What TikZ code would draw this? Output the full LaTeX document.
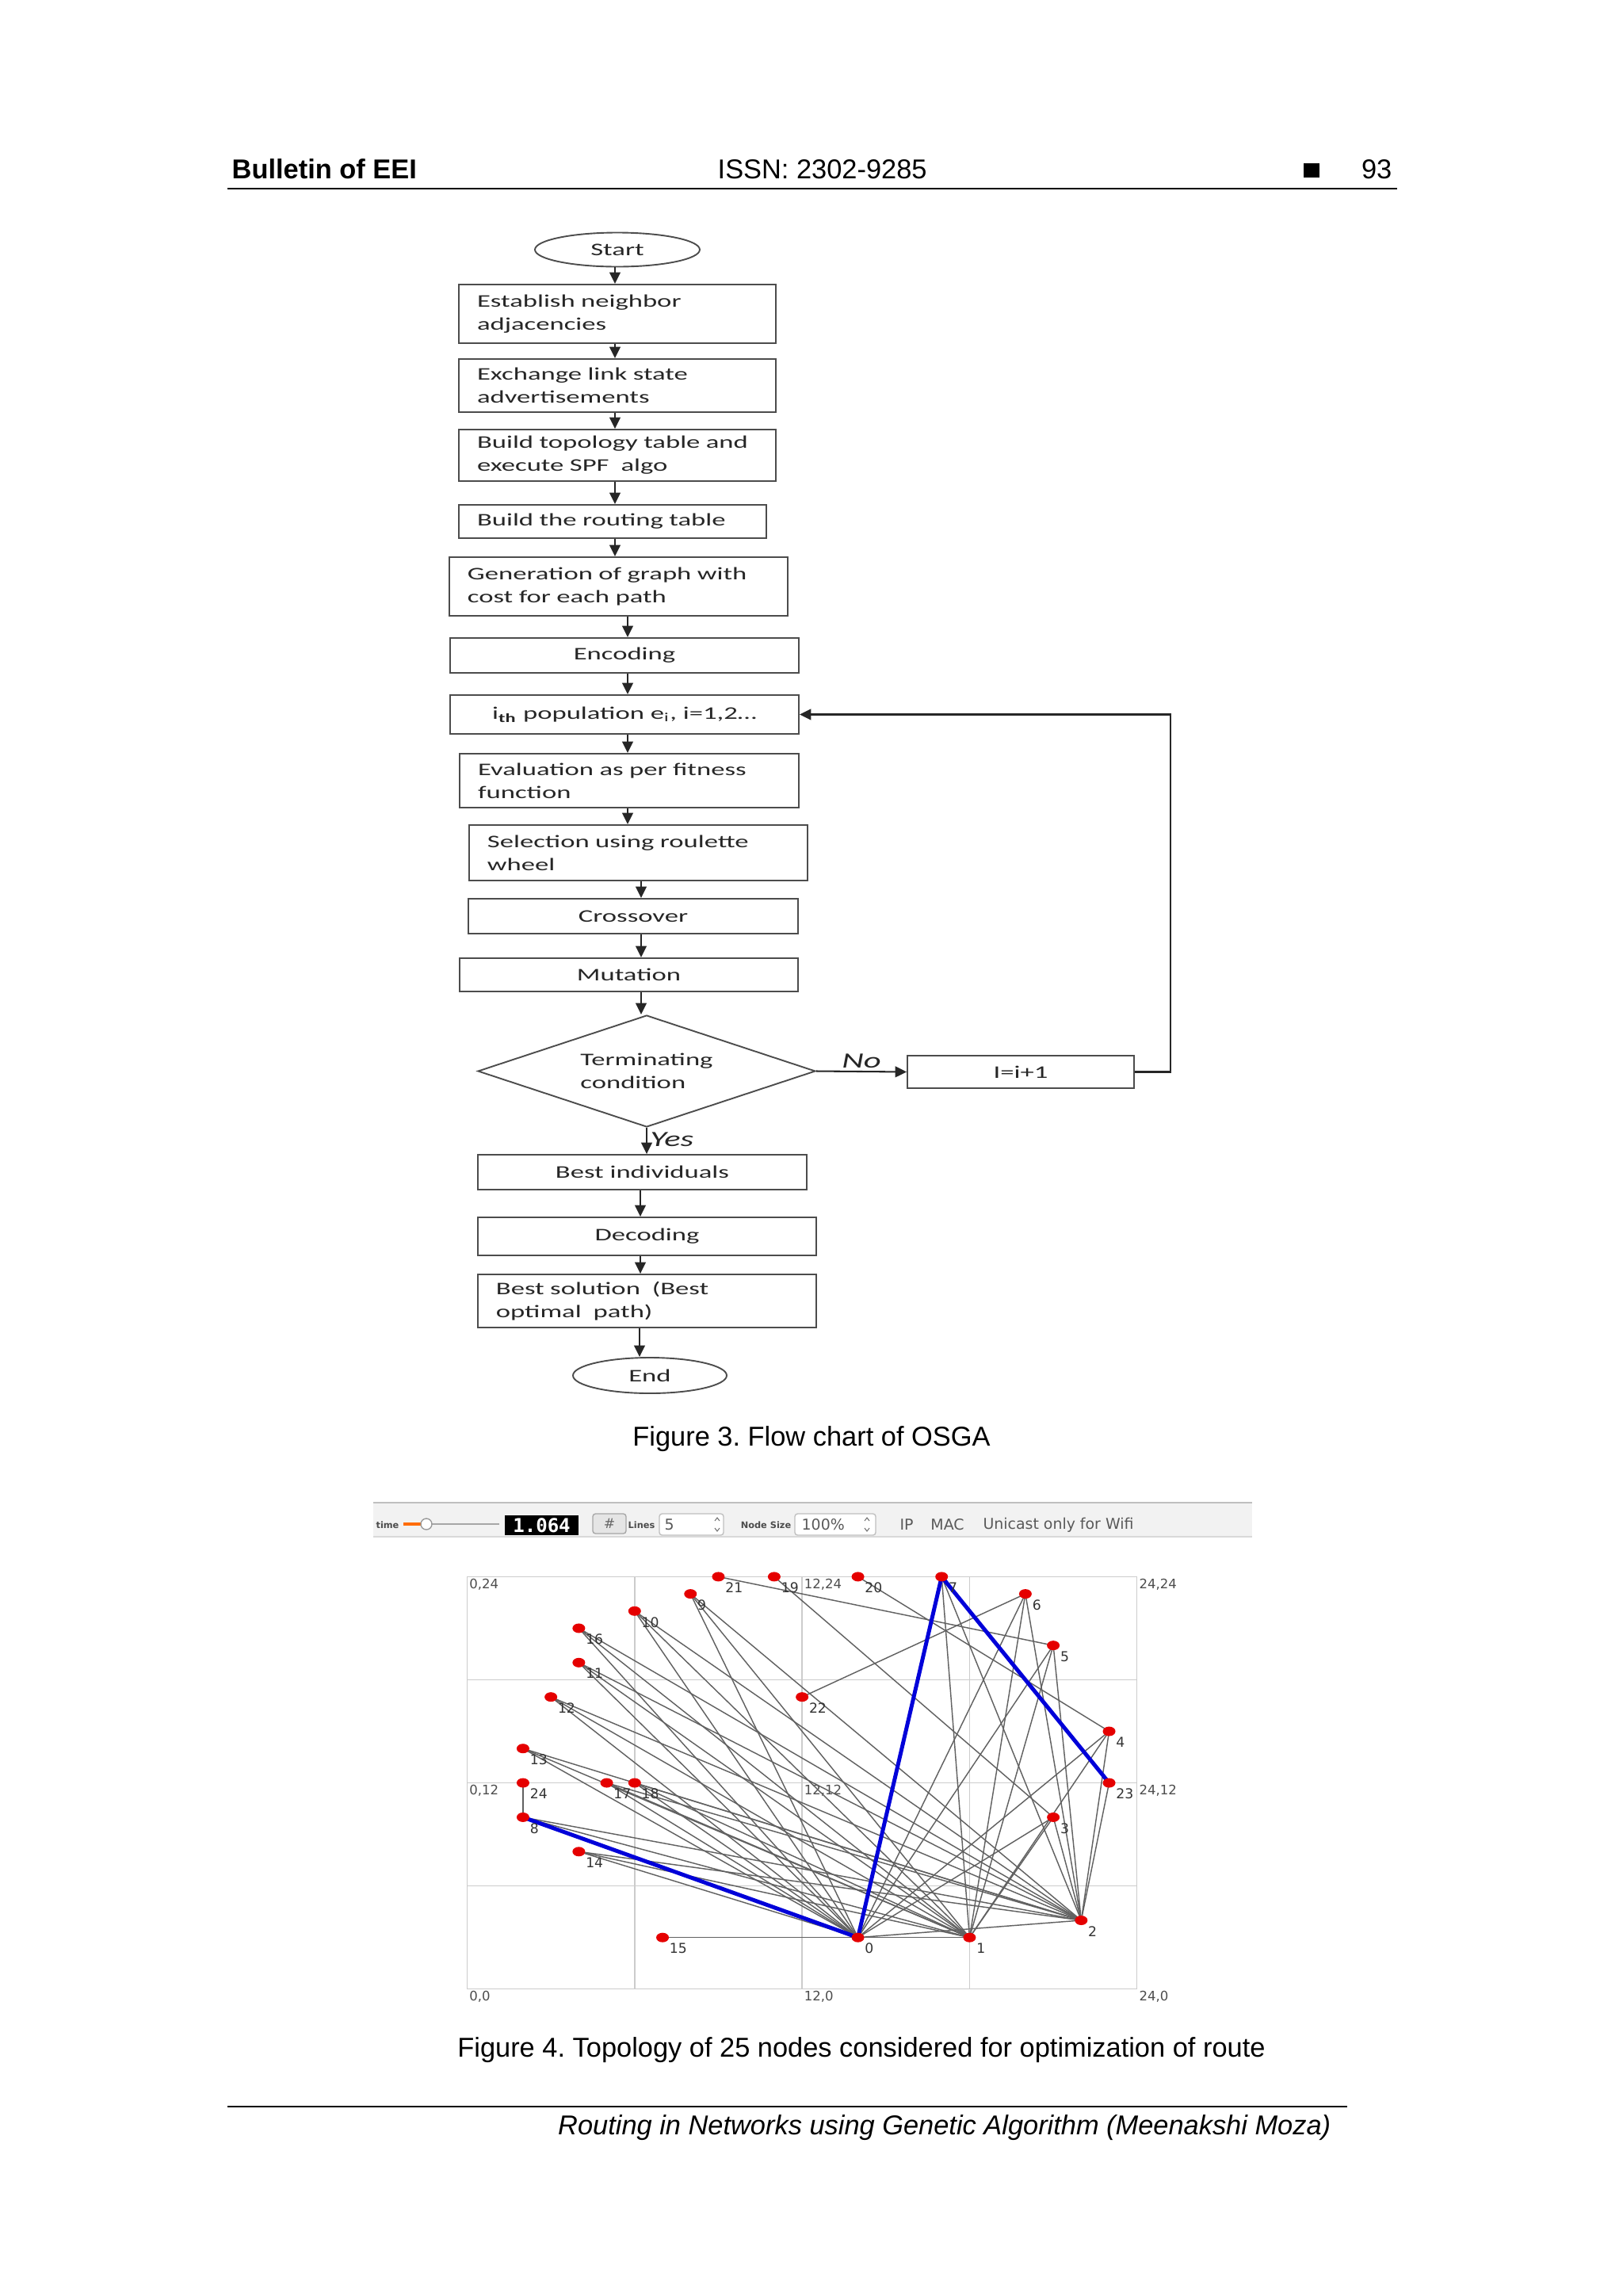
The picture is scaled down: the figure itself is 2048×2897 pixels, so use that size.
\documentclass[tikz,border=0pt]{standalone}
\usepackage{fontspec}
\setmainfont{Liberation Sans}
\newfontfamily\flowfont[FakeStretch=1.55]{Carlito}
\newfontfamily\guifont{DejaVu Sans}
\newfontfamily\lcdfont{DejaVu Sans Mono}
\usetikzlibrary{shapes.geometric, arrows.meta, calc}
\frenchspacing
\newcommand{\pxu}{0.2907pt}
\tikzset{
  wh/.style 2 args={minimum width=#1*\pxu, minimum height=#2*\pxu},
  terminal/.style={ellipse, draw=black!70, line width=0.55pt, inner sep=0pt, text=black!85, font=\flowfont\fontsize{6.5}{8.5}\selectfont},
  stepbox/.style={rectangle, draw=black!70, line width=0.55pt, inner xsep=23*\pxu, inner ysep=0pt, align=left, text=black!85, font=\flowfont\fontsize{6.5}{8.5}\selectfont},
  midbox/.style={rectangle, draw=black!70, line width=0.55pt, inner sep=0pt, align=center, text=black!85, font=\flowfont\fontsize{6.5}{8.5}\selectfont},
  choice/.style={diamond, aspect=3, draw=black!70, line width=0.55pt, inner sep=0pt, align=left, text=black!85, font=\flowfont\fontsize{6.5}{8.5}\selectfont},
  hand/.style={font=\flowfont\itshape\fontsize{8}{8}\selectfont, text=black!85, inner sep=1pt},
  flowarrow/.style={line width=0.6pt, draw=black!85, -{Triangle[length=4.2pt,width=4pt]}},
  pagetext/.style={inner sep=0pt, font=\fontsize{10}{12}\selectfont},
  gui/.style={inner sep=0pt, text=black!65, font=\guifont\fontsize{5.5}{6}\selectfont},
  guismall/.style={inner sep=0pt, text=black!70, font=\guifont\bfseries\fontsize{3.3}{4}\selectfont},
  spinbox/.style={draw=black!25, fill=white, rounded corners=1pt, inner sep=0pt},
  gridline/.style={black!20, line width=0.4pt},
  gridlbl/.style={anchor=north west, inner sep=0.6pt, text=black!70, font=\guifont\fontsize{4.8}{5}\selectfont},
  link/.style={black!62, line width=0.42pt},
  route/.style={blue!85!black, line width=1.45pt, line join=round},
  vertex/.style={ellipse, fill=red!90!black, inner sep=0pt, minimum width=16*\pxu, minimum height=12*\pxu},
  vlbl/.style={inner sep=0.6pt, text=black!80, font=\guifont\fontsize{5}{5}\selectfont}
}

\begin{document}
\begin{tikzpicture}[x=0.2907pt, y=-0.2907pt]
    \useasboundingbox (0,0) rectangle (2048,2897);

    % page head
    \node[pagetext, anchor=base west, font=\bfseries\fontsize{10}{12}\selectfont] (journal) at (292,225) {Bulletin of EEI};
    \node[pagetext, anchor=base west] (issn) at (905,225) {ISSN: 2302-9285};
    \fill[black] (1645,206) rectangle (1665,224);
    \node[pagetext, anchor=base east] (pagenum) at (1757,225) {93};
    \draw[line width=0.8pt] (287,238) -- (1763,238);

    % flow chart
    \node[terminal, wh={208}{43}] (start) at (779,315) {Start};
    \node[stepbox, wh={400}{74}, text width=102.9pt] (neigh) at (779,396) {Establish neighbor\\adjacencies};
    \node[stepbox, wh={400}{67}, text width=102.9pt] (lsa) at (779,486.5) {Exchange link state\\advertisements};
    \node[stepbox, wh={400}{65}, text width=102.9pt] (topo) at (779,574.5) {Build topology table and\\execute SPF\ \ algo};
    \node[stepbox, wh={388}{42}, text width=99.4pt] (rtable) at (773,658) {Build the routing table};
    \node[stepbox, wh={427}{74}, text width=110.8pt] (graphgen) at (780.5,740) {Generation of graph with\\cost for each path};
    \node[midbox, wh={440}{44}] (encode) at (788,827) {Encoding};
    \node[midbox, wh={440}{49}] (popul) at (788,901.5) {i\textsubscript{\bfseries th} population e\textsubscript{i}, i=1,2\ldots};
    \node[stepbox, wh={428}{68}, text width=111pt] (fitness) at (794,985) {Evaluation as per fitness\\function};
    \node[stepbox, wh={427}{70}, text width=110.8pt] (select) at (805.5,1076) {Selection using roulette\\wheel};
    \node[midbox, wh={416}{44}] (cross) at (799,1156) {Crossover};
    \node[midbox, wh={427}{42}] (mutate) at (793.5,1230) {Mutation};
    \node[choice, wh={426}{141}] (term) at (816,1351.5) {Terminating\\condition};
    \node[midbox, wh={286}{41}] (incr) at (1288,1352.5) {I=i+1};
    \node[midbox, wh={415}{44}] (best) at (810.5,1479) {Best individuals};
    \node[midbox, wh={427}{48}] (decode) at (816.5,1560) {Decoding};
    \node[stepbox, wh={427}{67}, text width=110.8pt] (solution) at (816.5,1641.5) {Best solution\ \ (Best\\optimal\ \ path)};
    \node[terminal, wh={194}{45}] (finish) at (820,1735.5) {End};

    % straight arrows down the chart
    \foreach \a/\b/\c in {start/neigh/776, neigh/lsa/776, lsa/topo/776, topo/rtable/776,
                          rtable/graphgen/776, graphgen/encode/792, encode/popul/792,
                          popul/fitness/792, fitness/select/792, select/cross/809,
                          cross/mutate/809, mutate/term/809, best/decode/808,
                          decode/solution/808, solution/finish/807}
        \draw[flowarrow] (\a.south -| \c,0) -- (\b.north -| \c,0);

    \draw[flowarrow] (term.south) -- node[hand, right, pos=0.45] (yeslbl) {Yes} (term.south |- best.north);
    \draw[flowarrow] (term.east) -- node[hand, above] (nolbl) {No} (incr.west);
    \draw[flowarrow] (incr.east) -- ++(45,0) |- (popul.east);

    \node[pagetext, anchor=base] (cap3) at (1024,1824) {Figure 3. Flow chart of OSGA};

    % simulator tool bar
    \fill[black!5] (471,1896) rectangle (1580,1939);
    \draw[black!25, line width=0.4pt] (471,1896) -- (1580,1896);
    \draw[black!15, line width=0.4pt] (471,1939) -- (1580,1939);
    \node[guismall] (timelbl) at (489,1924) {time};
    \draw[black!35, line width=0.4pt] (535,1923) -- (630,1923);
    \draw[orange!85!red, line width=1.2pt] (509,1923) -- (535,1923);
    \node[circle, draw=black!40, fill=white, minimum size=14*\pxu, inner sep=0pt] (knob) at (538,1923) {};
    \node[fill=black, wh={93}{25}, inner sep=0pt, text=white, font=\lcdfont\bfseries\fontsize{7}{7}\selectfont] (clock) at (683.5,1924.5) {1.064};
    \node[draw=black!35, fill=black!10, rounded corners=1pt, wh={42}{25}, inner sep=0pt, text=black!60, font=\guifont\fontsize{5}{5}\selectfont] (gridbtn) at (769,1922.5) {\#};
    \node[guismall] (lineslbl) at (809.5,1924) {Lines};
    \node[spinbox, wh={81}{27}] (linespin) at (872.5,1923.5) {};
    \node[gui, anchor=west] (linesval) at (838,1924) {5};
    \draw[black!55, line width=0.3pt] (902,1919) -- (905,1915) -- (908,1919);
    \draw[black!55, line width=0.3pt] (902,1928) -- (905,1932) -- (908,1928);
    \node[guismall] (sizelbl) at (966.5,1924) {Node Size};
    \node[spinbox, wh={102}{27}] (sizespin) at (1054,1923.5) {};
    \node[gui, anchor=west] (sizeval) at (1011,1924) {100\%};
    \draw[black!55, line width=0.3pt] (1091,1919) -- (1094,1915) -- (1097,1919);
    \draw[black!55, line width=0.3pt] (1091,1928) -- (1094,1932) -- (1097,1928);
    \node[gui] (iplbl) at (1144,1924) {IP};
    \node[gui] (maclbl) at (1195.5,1924) {MAC};
    \node[gui] (wifilbl) at (1335.5,1924) {Unicast only for Wifi};

    % topology on a 24 x 24 field
    \begin{scope}[shift={(589.5,2509.7)}, x=10.238pt, y=6.302pt]
        \foreach \g in {0,6,...,24} {
            \draw[gridline] (\g,0) -- (\g,24);
            \draw[gridline] (0,\g) -- (24,\g);
        }
        \foreach \gx/\gy in {0/24, 12/24, 24/24, 0/12, 12/12, 24/12, 0/0, 12/0, 24/0}
            \node[gridlbl] (gl\gx-\gy) at (\gx,\gy) {\gx,\gy};

        % positions of the 25 routers
        \foreach \id/\vx/\vy in {0/14/3, 1/18/3, 2/22/4, 3/21/10, 4/23/15, 5/21/20, 6/20/23,
                                 7/17/24, 8/2/10, 9/8/23, 10/6/22, 11/4/19, 12/3/17, 13/2/14,
                                 14/4/8, 15/7/3, 16/4/21, 17/5/12, 18/6/12, 19/11/24, 20/14/24,
                                 21/9/24, 22/12/17, 23/23/12, 24/2/12}
            \coordinate (n\id) at (\vx,\vy);

        % links
        \foreach \a in {3,4,5,6,9,10,11,12,13,14,16,17,18}
            \foreach \b in {0,1,2}
                \draw[link] (n\a) -- (n\b);
        \foreach \a/\b in {7/1, 7/2, 8/1, 8/2, 24/8, 15/0, 0/1, 0/2, 21/5, 19/3, 20/4, 22/6, 23/2}
            \draw[link] (n\a) -- (n\b);

        % best route
        \draw[route] (n8) -- (n0) -- (n7) -- (n23);

        \foreach \id in {0,...,24}
            \node[vertex, label={[vlbl]south east:\id}] (v\id) at (n\id) {};
    \end{scope}

    \node[pagetext, anchor=base] (cap4) at (1087,2595) {Figure 4. Topology of 25 nodes considered for optimization of route};

    % page foot
    \draw[line width=0.8pt] (287,2658) -- (1700,2658);
    \node[pagetext, anchor=base east, font=\itshape\fontsize{10}{12}\selectfont] (footer) at (1680,2693) {Routing in Networks using Genetic Algorithm (Meenakshi Moza)};
\end{tikzpicture}
\end{document}
